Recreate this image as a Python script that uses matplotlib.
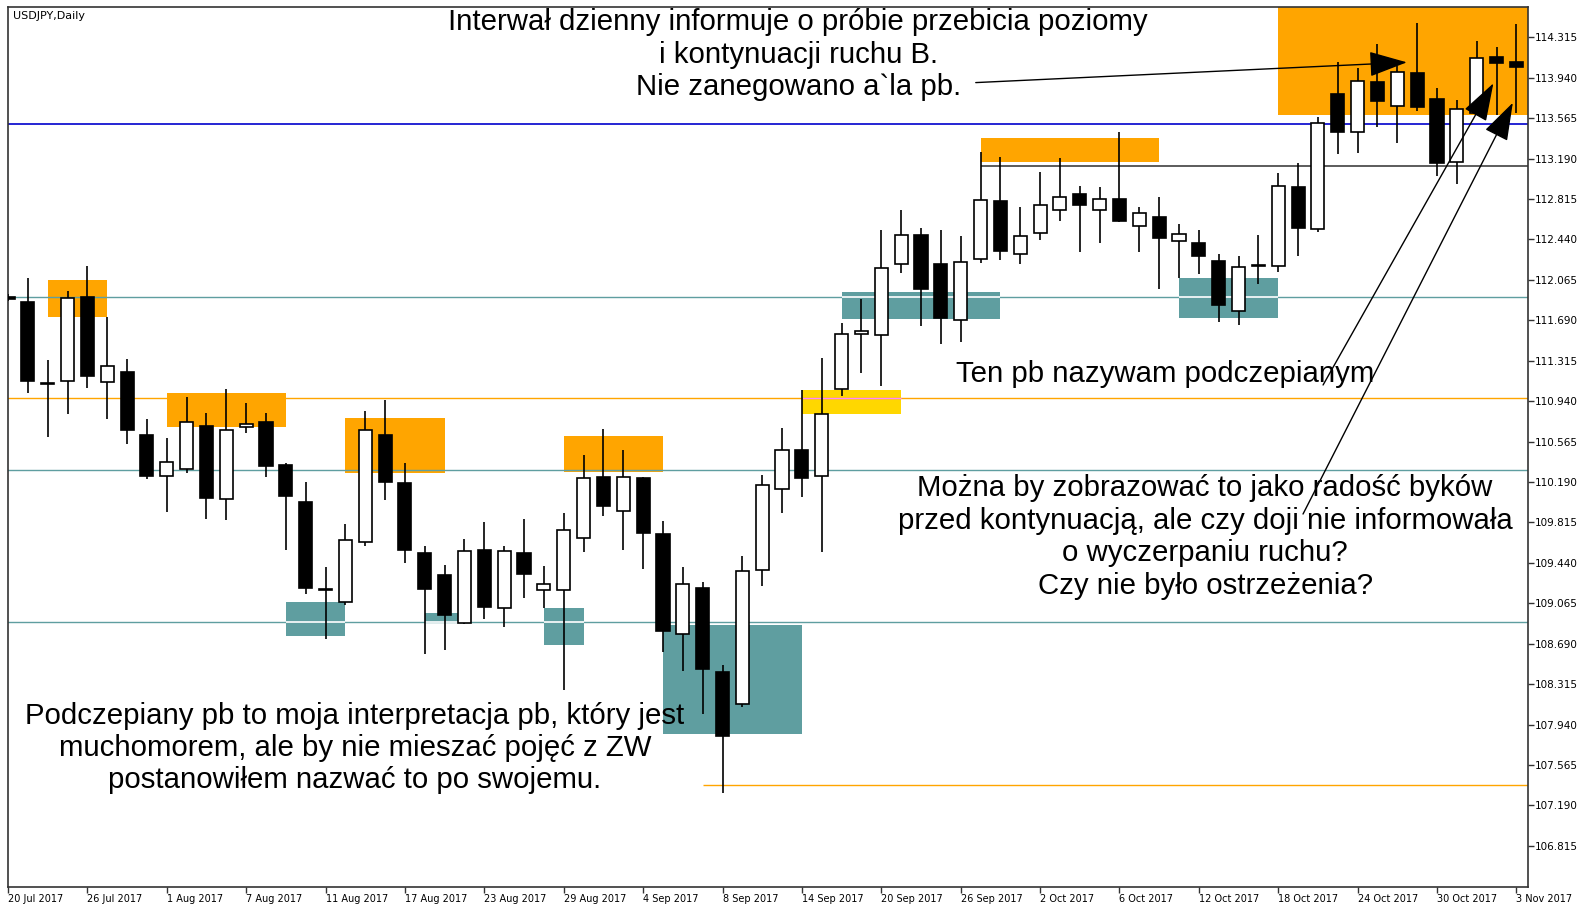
import numpy as np
import matplotlib
matplotlib.use("Agg")
import matplotlib.pyplot as plt
from matplotlib.patches import Rectangle, FancyArrowPatch

# USDJPY daily candles, 20 Jul 2017 .. 3 Nov 2017 (one entry per trading day)
opens = [111.91, 111.857, 111.105, 111.130, 111.903, 111.118, 111.213, 110.629, 110.248, 110.308,
         110.712, 110.029, 110.697, 110.746, 110.348, 110.007, 109.195, 109.080, 109.631, 110.629,
         110.183, 109.529, 109.327, 108.879, 109.559, 109.018, 109.529, 109.188, 109.188, 109.668,
         110.239, 109.924, 110.230, 109.705, 108.777, 109.209, 108.430, 108.131, 109.374, 110.122,
         110.487, 110.248, 111.050, 111.563, 111.551, 112.209, 112.478, 112.209, 111.693, 112.256,
         112.797, 112.302, 112.497, 112.713, 112.861, 112.713, 112.815, 112.567, 112.645, 112.428,
         112.410, 112.243, 111.776, 112.198, 112.194, 112.924, 112.534, 113.789, 113.434, 113.898,
         113.681, 113.981, 113.743, 113.161, 113.610, 114.129, 114.086]
highs = [111.93, 112.085, 111.319, 111.964, 112.196, 111.718, 111.331, 110.772, 110.595, 110.981,
         110.827, 111.053, 110.923, 110.827, 110.363, 110.187, 109.399, 109.798, 110.851, 110.948,
         110.369, 109.599, 109.420, 109.658, 109.822, 109.599, 109.847, 109.411, 109.905, 110.440,
         110.679, 110.487, 110.235, 109.831, 109.399, 109.260, 108.492, 109.506, 110.255, 110.688,
         111.043, 111.337, 111.662, 111.885, 112.528, 112.713, 112.549, 112.528, 112.475, 113.254,
         113.202, 112.738, 113.066, 113.193, 112.938, 112.924, 113.439, 112.744, 112.831, 112.583,
         112.528, 112.305, 112.289, 112.481, 113.053, 113.146, 113.573, 114.083, 114.027, 114.250,
         114.049, 114.450, 113.842, 113.733, 114.283, 114.228, 114.438]
lows = [111.87, 111.013, 110.610, 110.821, 111.059, 110.774, 110.540, 110.215, 109.909, 110.271,
        109.847, 109.837, 110.644, 110.236, 109.559, 109.148, 108.734, 109.049, 109.596, 110.023,
        109.441, 108.595, 108.632, 108.873, 108.916, 108.842, 109.111, 109.018, 108.261, 109.538,
        109.875, 109.559, 109.383, 108.616, 108.440, 108.038, 107.308, 108.106, 109.228, 109.900,
        110.054, 109.541, 110.988, 111.198, 111.080, 112.126, 111.640, 111.467, 111.486, 112.219,
        112.249, 112.209, 112.435, 112.614, 112.321, 112.404, 112.599, 112.321, 111.980, 112.079,
        112.119, 111.677, 111.646, 112.027, 112.135, 112.286, 112.512, 113.232, 113.245, 113.480,
        113.337, 113.631, 113.028, 112.954, 113.594, 113.594, 113.616]
closes = [111.89, 111.129, 111.099, 111.894, 111.173, 111.269, 110.669, 110.246, 110.378, 110.744,
          110.039, 110.675, 110.731, 110.341, 110.060, 109.204, 109.188, 109.652, 110.672, 110.190,
          109.559, 109.197, 108.956, 109.550, 109.028, 109.550, 109.334, 109.244, 109.748, 110.230,
          109.970, 110.239, 109.714, 108.808, 109.244, 108.455, 107.834, 109.364, 110.159, 110.487,
          110.230, 110.818, 111.563, 111.591, 112.172, 112.478, 111.980, 111.708, 112.231, 112.806,
          112.336, 112.475, 112.757, 112.836, 112.757, 112.815, 112.614, 112.688, 112.450, 112.488,
          112.286, 111.832, 112.187, 112.190, 112.936, 112.543, 113.517, 113.434, 113.910, 113.727,
          113.990, 113.666, 113.152, 113.647, 114.126, 114.079, 114.042]

date_labels = ["20 Jul 2017", "26 Jul 2017", "1 Aug 2017", "7 Aug 2017", "11 Aug 2017",
               "17 Aug 2017", "23 Aug 2017", "29 Aug 2017", "4 Sep 2017", "8 Sep 2017",
               "14 Sep 2017", "20 Sep 2017", "26 Sep 2017", "2 Oct 2017", "6 Oct 2017",
               "12 Oct 2017", "18 Oct 2017", "24 Oct 2017", "30 Oct 2017", "3 Nov 2017"]
price_ticks = [114.315 - 0.375 * k for k in range(21)]

# zones: (first bar, last bar, low price, high price)
orange_zones = [(2, 5, 111.723, 112.061), (8, 14, 110.703, 111.013), (17, 22, 110.271, 110.784),
                (28, 33, 110.280, 110.619), (49, 58, 113.161, 113.384), (64, 80, 113.594, 114.70)]
yellow_zones = [(40, 45, 110.818, 111.043)]
teal_zones = [(14, 17, 108.761, 109.074), (21, 23, 108.879, 108.978), (27, 29, 108.675, 109.024),
              (33, 40, 107.850, 108.863), (42, 50, 111.699, 111.955), (59, 64, 111.708, 112.079)]

blue_level = 113.511
teal_levels = [111.903, 110.298, 108.894]
orange_level = 110.966
gray_level, gray_from = 113.124, 49
low_level, low_from = 107.379, 35

# arrows: (start bar, start price, end bar, end price)
arrows = [(48.76, 113.895, 70.48, 114.083),
          (66.26, 111.09, 74.84, 113.888),
          (65.25, 109.893, 75.82, 113.708)]

notes = [
    (39.81, 114.155, "Interwał dzienny informuje o próbie przebicia poziomy\ni kontynuacji ruchu B.\nNie zanegowano a`la pb."),
    (58.28, 111.19, "Ten pb nazywam podczepianym"),
    (60.32, 109.68, "Można by zobrazować to jako radość byków\nprzed kontynuacją, ale czy doji nie informowała\no wyczerpaniu ruchu?\nCzy nie było ostrzeżenia?"),
    (17.48, 107.722, "Podczepiany pb to moja interpretacja pb, który jest\nmuchomorem, ale by nie mieszać pojęć z ZW\npostanowiłem nazwać to po swojemu."),
]

ORANGE = "#FFA500"
YELLOW = "#FFD700"
TEAL = "#5F9EA0"

fig = plt.figure(figsize=(15.8, 9.05), dpi=100)
ax = fig.add_axes([8 / 1580, 1 - 886.7 / 905, 1520.3 / 1580, 880 / 905])

n = len(opens)
x = np.arange(n)
o = np.array(opens)
c = np.array(closes)

# zones
for x0, x1, lo, hi in orange_zones:
    ax.add_patch(Rectangle((x0, lo), x1 - x0, hi - lo, color=ORANGE, lw=0, zorder=1))
for x0, x1, lo, hi in yellow_zones:
    ax.add_patch(Rectangle((x0, lo), x1 - x0, hi - lo, color=YELLOW, lw=0, zorder=1))
    if lo < orange_level < hi:
        ax.hlines(orange_level, x0, x1, color="#FF88FF", lw=1, zorder=2.5)
for x0, x1, lo, hi in teal_zones:
    ax.add_patch(Rectangle((x0, lo), x1 - x0, hi - lo, color=TEAL, lw=0, zorder=1))
    for lvl in teal_levels:
        if lo < lvl < hi:
            ax.hlines(lvl, x0, x1, color="white", lw=1.2, zorder=2.5)

# levels
ax.axhline(blue_level, color="#0000CC", lw=1.2, zorder=2)
for lvl in teal_levels:
    ax.axhline(lvl, color=TEAL, lw=1, zorder=2)
ax.axhline(orange_level, color=ORANGE, lw=1, zorder=2)
ax.hlines(gray_level, gray_from, 80, color="#404040", lw=1.2, zorder=2)
ax.hlines(low_level, low_from, 80, color=ORANGE, lw=1, zorder=2)

# candles
ax.vlines(x, lows, highs, color="black", lw=1.2, zorder=3)
body = np.maximum(np.abs(c - o), 0.012)
fill = np.where(c >= o, "white", "black")
ax.bar(x, body, bottom=np.minimum(o, c), width=0.66, color=fill,
       edgecolor="black", linewidth=1.2, zorder=4)

# arrows
for xa, ya, xb, yb in arrows:
    ax.add_patch(FancyArrowPatch((xa, ya), (xb, yb), arrowstyle="-|>,head_length=2.4,head_width=0.8",
                                 mutation_scale=10, color="black", lw=1, shrinkA=0, shrinkB=0, zorder=6))

for xt, yt, txt in notes:
    ax.text(xt, yt, txt, ha="center", va="center", fontsize=21.2, linespacing=1.2,
            family=["Liberation Sans", "DejaVu Sans"], zorder=7)

ax.text(0.003, 0.995, "USDJPY,Daily", transform=ax.transAxes, ha="left", va="top",
        fontsize=8, family="DejaVu Sans")

ax.set_xlim(0.015, 76.6)
ax.set_ylim(106.436, 114.599)

ax.yaxis.tick_right()
ax.set_yticks(price_ticks)
ax.set_yticklabels([f"{p:.3f}" for p in price_ticks])
ax.set_xticks(np.arange(0, n, 4))
ax.set_xticklabels(date_labels, ha="left")
ax.tick_params(axis="both", direction="out", length=4, width=1, color="#333333",
               labelsize=7.5, pad=1)
ax.tick_params(axis="x", labelsize=7)
for s in ax.spines.values():
    s.set_color("#333333")
    s.set_linewidth(1.2)

fig.savefig("out.png", dpi=100)
